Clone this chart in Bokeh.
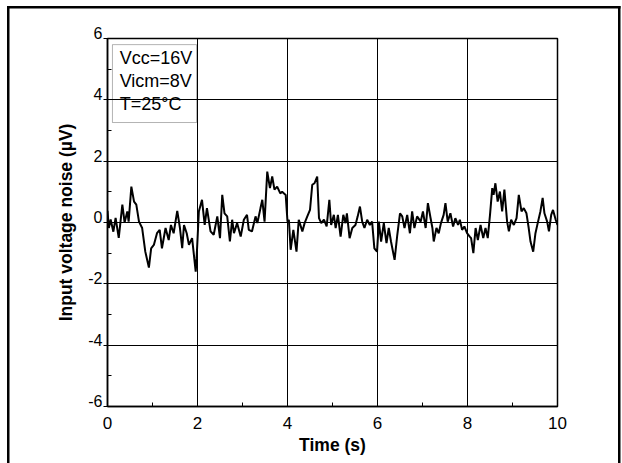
from bokeh.plotting import figure
from bokeh.models import BoxAnnotation, Label, FixedTicker, Range1d, PrintfTickFormatter
from bokeh.embed import file_html
from bokeh.resources import INLINE

# ---- data ----
time_s = [0.00,0.03,0.07,0.13,0.18,0.25,0.33,0.38,0.44,0.47,
          0.53,0.59,0.64,0.70,0.77,0.84,0.92,0.97,1.03,1.10,
          1.16,1.21,1.29,1.36,1.41,1.47,1.55,1.61,1.66,1.70,
          1.76,1.81,1.88,1.96,1.98,2.03,2.10,2.16,2.21,2.29,
          2.36,2.44,2.50,2.55,2.60,2.66,2.72,2.77,2.81,2.88,
          2.96,3.03,3.10,3.14,3.21,3.29,3.33,3.40,3.44,3.49,
          3.55,3.61,3.66,3.71,3.77,3.84,3.88,3.96,4.00,4.03,
          4.07,4.13,4.20,4.25,4.33,4.38,4.44,4.50,4.55,4.60,
          4.66,4.70,4.75,4.81,4.87,4.93,4.97,5.03,5.07,5.12,
          5.18,5.24,5.29,5.32,5.38,5.44,5.51,5.56,5.61,5.66,
          5.71,5.77,5.83,5.88,5.93,5.99,6.03,6.08,6.14,6.20,
          6.25,6.30,6.38,6.44,6.50,6.55,6.60,6.66,6.72,6.77,
          6.82,6.88,6.96,7.01,7.07,7.12,7.18,7.22,7.25,7.31,
          7.36,7.41,7.47,7.51,7.56,7.62,7.68,7.73,7.79,7.83,
          7.88,7.93,7.99,8.05,8.08,8.13,8.18,8.23,8.29,8.35,
          8.40,8.45,8.50,8.55,8.58,8.62,8.67,8.72,8.77,8.82,
          8.88,8.92,8.97,9.03,9.09,9.14,9.20,9.25,9.31,9.36,
          9.40,9.46,9.51,9.56,9.62,9.67,9.71,9.77,9.81,9.86,
          9.90,9.96,10.0]

noise_uv = [0.38,-0.18,0.10,-0.30,0.15,-0.50,0.58,0.00,0.36,0.03,
            1.17,0.68,0.58,0.03,-0.18,-0.95,-1.47,-0.84,-0.73,-0.35,
            -0.24,-0.84,-0.18,-0.57,-0.08,-0.35,0.38,-0.18,-0.84,-0.08,
            -0.35,-0.73,-0.51,-1.60,-1.17,0.36,0.74,-0.08,0.47,-0.29,
            -0.40,0.20,-0.51,0.90,0.30,0.20,-0.62,0.09,-0.35,-0.02,
            -0.46,0.09,0.25,-0.24,-0.29,0.20,-0.02,0.47,0.74,0.03,
            1.66,1.12,1.50,1.07,1.17,0.95,1.00,0.90,0.03,0.09,
            -0.89,-0.24,-0.95,0.09,-0.29,-0.02,0.20,0.41,1.23,1.28,
            1.50,0.14,-0.02,0.09,-0.13,0.74,-0.08,0.25,-0.18,0.25,
            -0.46,0.25,-0.02,0.30,-0.51,-0.18,-0.08,0.20,0.52,0.03,
            -0.18,0.09,-0.08,0.03,-0.84,-0.95,0.03,-0.62,-0.02,-0.67,
            -0.18,-0.62,-1.22,-0.40,0.30,0.20,-0.18,0.25,-0.35,0.36,
            -0.18,0.20,0.03,0.36,-0.18,0.63,0.14,-0.18,-0.62,-0.18,
            -0.35,-0.02,0.25,0.63,0.03,0.30,-0.13,0.14,-0.08,0.09,
            -0.24,-0.13,-0.35,-0.46,-0.51,-1.00,-0.18,-0.57,-0.08,-0.51,
            -0.18,-0.51,0.25,1.12,0.90,1.28,0.68,1.01,0.36,1.07,
            0.03,-0.29,0.09,-0.08,0.14,0.90,0.36,0.47,0.30,-0.18,
            -0.62,-0.95,-0.35,-0.02,0.36,0.80,0.30,0.03,-0.29,0.25,
            0.41,0.09,-0.08]

x_ticks = [0, 2, 4, 6, 8, 10]
x_minor = [1, 3, 5, 7, 9]
y_ticks = [-6, -4, -2, 0, 2, 4, 6]
y_minor = [-5, -3, -1, 1, 3, 5]
y_tick_labels = ["-6", "-4", "-2", "0", "2", "4", "6"]
legend_lines = ["Vcc=16V", "Vicm=8V", "T=25°C"]
legend_y = [5.38, 4.63, 3.88]

FONT = "Liberation Sans"

p = figure(width=622, height=463, output_backend="svg", toolbar_location=None,
           x_range=Range1d(0, 10), y_range=Range1d(-6, 6),
           min_border_left=107, min_border_right=65,
           min_border_top=38, min_border_bottom=57,
           background_fill_color="white", border_fill_alpha=0)

# outer panel frame (left, top and right rules; bottom is off-page)
p.styles = {
    "background-color": "white",
    "background-image": "linear-gradient(#000,#000), linear-gradient(#000,#000), linear-gradient(#000,#000)",
    "background-repeat": "no-repeat",
    "background-position": "6.5px 5.5px, 6.5px 5.5px, 617.5px 5.5px",
    "background-size": "2.5px 100%, 613.5px 2.5px, 2.5px 100%",
}

p.outline_line_color = "black"
p.outline_line_width = 1.5

# axes
p.xaxis.ticker = FixedTicker(ticks=x_ticks, minor_ticks=x_minor)
p.xaxis.formatter = PrintfTickFormatter(format="%d")
p.yaxis.ticker = FixedTicker(ticks=y_ticks, minor_ticks=y_minor)
for ax in (p.xaxis[0], p.yaxis[0]):
    ax.axis_line_color = "black"
    ax.axis_line_width = 1.5
    ax.major_tick_line_color = "black"
    ax.minor_tick_line_color = "black"
    ax.major_label_text_font = FONT
    ax.major_label_text_color = "black"
    ax.axis_label_text_font = FONT
    ax.axis_label_text_font_size = "17.5px"
    ax.axis_label_text_font_style = "bold"
    ax.axis_label_text_color = "black"

p.xaxis.major_label_text_font_size = "17px"
p.xaxis.major_tick_in = 0
p.xaxis.major_tick_out = 0
p.xaxis.minor_tick_in = 4
p.xaxis.minor_tick_out = 0
p.xaxis.major_label_standoff = 10
p.xaxis.axis_label = "Time (s)"
p.xaxis.axis_label_standoff = 3

p.yaxis.major_tick_in = 0
p.yaxis.major_tick_out = 4
p.yaxis.minor_tick_in = 4
p.yaxis.minor_tick_out = 0
p.yaxis.major_label_standoff = 1
p.yaxis.major_label_text_font_size = "16px"
p.yaxis.major_label_text_line_height = 0.6
# a trailing empty line lifts each label so it sits just above its tick
p.yaxis.major_label_overrides = {v: lab + "\n" for v, lab in zip(y_ticks, y_tick_labels)}
p.yaxis.axis_label = "Input voltage noise (µV)"
p.yaxis.axis_label_standoff = 9

# grid
p.xgrid.ticker = FixedTicker(ticks=x_ticks)
p.ygrid.ticker = FixedTicker(ticks=y_ticks)
for g in (p.xgrid[0], p.ygrid[0]):
    g.grid_line_color = "black"
    g.grid_line_width = 1
    g.grid_line_alpha = 1.0

# noise trace
p.line(time_s, noise_uv, line_color="black", line_width=2)

# condition box
p.add_layout(BoxAnnotation(left=0.11, right=1.98, top=5.80, bottom=3.26,
                           fill_alpha=0, line_color="black", line_width=1))
for txt, yy in zip(legend_lines, legend_y):
    p.add_layout(Label(x=0.27, y=yy, text=txt, text_baseline="middle",
                       text_font=FONT, text_font_size="18px", text_color="black"))

open("out.html", "w").write(file_html(p, INLINE))
